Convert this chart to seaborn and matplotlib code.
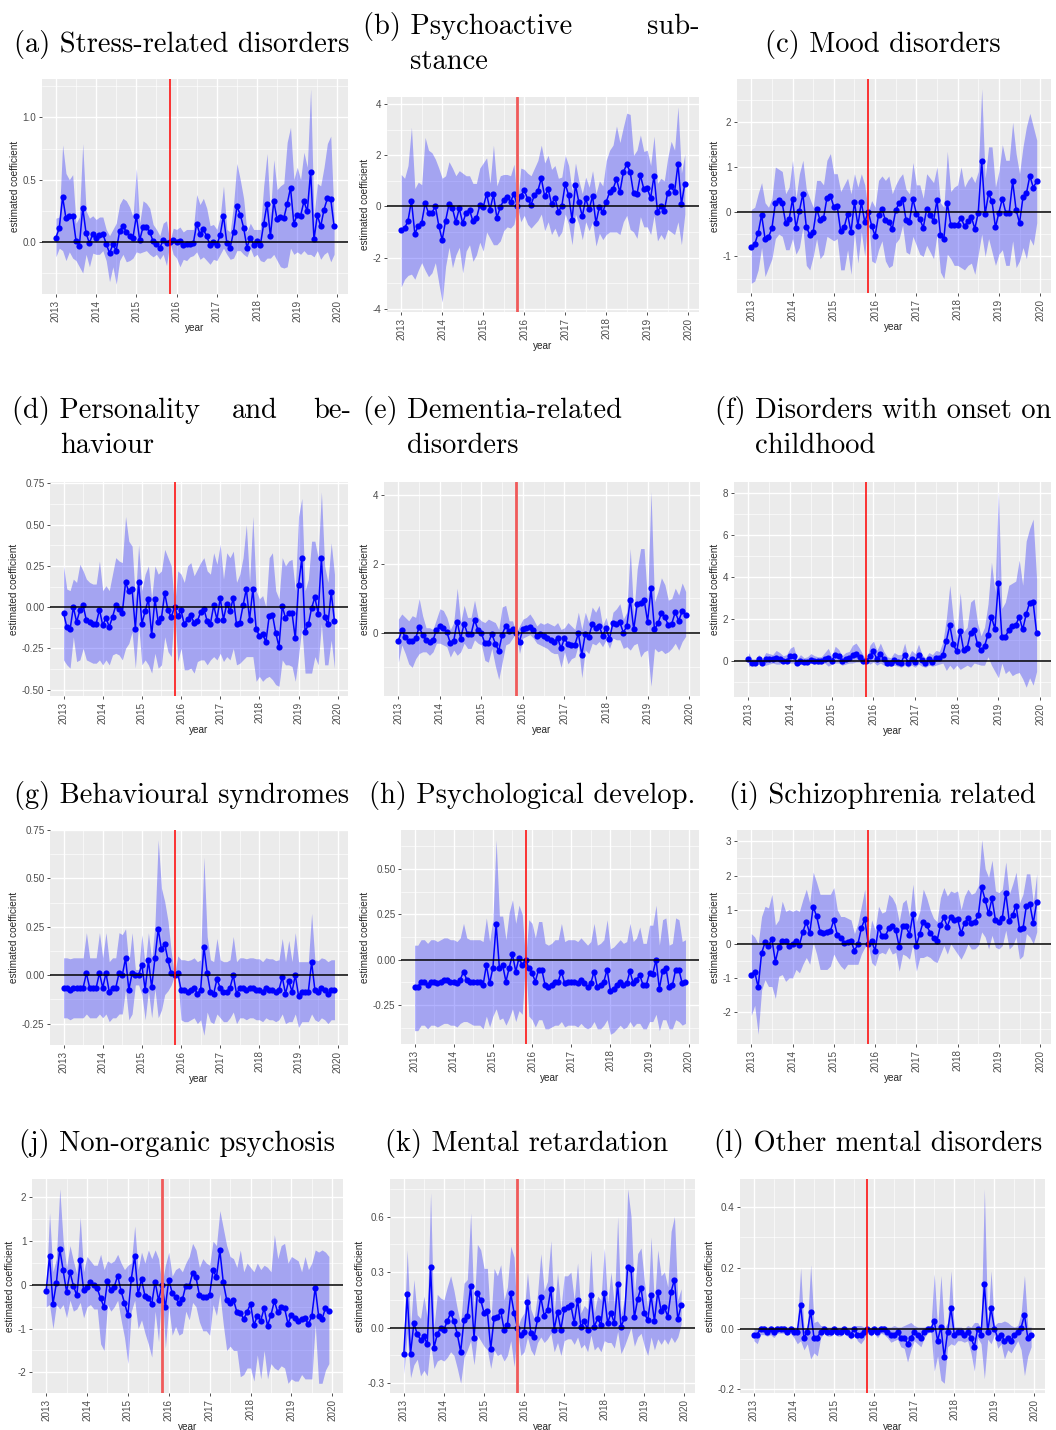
import numpy as np
import pandas as pd
import matplotlib
matplotlib.use("Agg")
import matplotlib.pyplot as plt
import seaborn as sns

# ---------------------------------------------------------------- time axis
months = pd.date_range("2013-01-01", "2019-12-01", freq="MS")
year_pos = np.asarray(months.year + (months.month - 1) / 12.0, dtype=float)
break_month = 2015 + 10 / 12.0          # reference month (Nov 2015)
year_ticks = list(range(2013, 2021))
year_labels = [str(y) for y in year_ticks]

# ---------------------------------------------------------------- (a) stress-related
stress_est = [0.035, 0.11, 0.36, 0.19, 0.21, 0.21, 0.01, -0.03, 0.275, 0.07, -0.01, 0.065,
              0.03, 0.055, 0.065, -0.015, -0.09, -0.02, -0.07, 0.085, 0.13, 0.08, 0.045, 0.035,
              0.21, 0.015, 0.12, 0.12, 0.08, 0.005, -0.015, -0.05, 0.015, -0.01, 0.0, 0.015,
              0.0, 0.01, -0.025, -0.02, -0.015, -0.01, 0.145, 0.06, 0.10, 0.045, -0.025, 0.0,
              -0.025, 0.055, 0.21, -0.01, -0.045, 0.08, 0.285, 0.22, 0.115, -0.045, 0.035, -0.025,
              0.005, -0.025, 0.145, 0.305, 0.045, 0.325, 0.18, 0.2, 0.19, 0.305, 0.435, 0.145,
              0.22, 0.21, 0.325, 0.245, 0.565, 0.02, 0.215, 0.125, 0.26, 0.35, 0.345, 0.125]
stress_hi = [0.19, 0.2, 0.78, 0.55, 0.5, 0.54, 0.15, 0.2, 0.79, 0.25, 0.19, 0.21,
             0.18, 0.2, 0.2, 0.1, 0.05, 0.1, 0.15, 0.3, 0.35, 0.33, 0.28, 0.2,
             0.59, 0.15, 0.33, 0.31, 0.27, 0.14, 0.1, 0.05, 0.15, 0.17, 0.0, 0.11,
             0.1, 0.12, 0.08, 0.1, 0.1, 0.1, 0.38, 0.3, 0.35, 0.27, 0.13, 0.14,
             0.1, 0.2, 0.45, 0.1, 0.08, 0.3, 0.63, 0.5, 0.35, 0.08, 0.15, 0.1,
             0.1, 0.1, 0.45, 0.71, 0.22, 0.66, 0.42, 0.45, 0.47, 0.8, 0.92, 0.5,
             0.6, 0.5, 0.72, 0.6, 1.23, 0.2, 0.47, 0.45, 0.6, 0.79, 0.85, 0.2]
stress_lo = [-0.12, -0.05, -0.07, -0.15, -0.08, -0.13, -0.15, -0.2, -0.25, -0.1, -0.2, -0.09,
             -0.1, -0.1, -0.07, -0.15, -0.32, -0.2, -0.34, -0.15, -0.1, -0.16, -0.15, -0.13,
             -0.08, -0.09, -0.08, -0.07, -0.1, -0.12, -0.1, -0.14, -0.1, -0.19, 0.0, -0.1,
             -0.13, -0.2, -0.14, -0.15, -0.12, -0.11, -0.08, -0.14, -0.12, -0.15, -0.18, -0.14,
             -0.15, -0.1, -0.05, -0.1, -0.14, -0.13, -0.07, -0.07, -0.1, -0.12, -0.05, -0.12,
             -0.1, -0.15, -0.16, -0.13, -0.13, -0.1, -0.15, -0.2, -0.21, -0.2, -0.05, -0.1,
             -0.08, -0.1, -0.07, -0.1, -0.1, -0.12, -0.07, -0.14, -0.1, -0.08, -0.16, -0.1]

# ---------------------------------------------------------------- (b) psychoactive substance
psycho_est = [-0.93, -0.86, -0.56, 0.22, -1.07, -0.76, -0.64, 0.12, -0.26, -0.25, 0.01, -0.75,
              -1.31, -0.56, 0.09, -0.08, -0.61, -0.08, -0.65, -0.25, -0.13, -0.59, -0.47, 0.04,
              -0.03, 0.48, -0.13, 0.47, -0.44, -0.04, 0.25, 0.37, 0.18, 0.50, 0.0, 0.42,
              0.63, 0.30, 0.07, 0.44, 0.61, 1.10, 0.39, 0.68, 0.09, 0.34, -0.2, 0.01,
              0.88, 0.44, -0.52, 0.84, 0.16, -0.39, 0.31, -0.12, 0.41, -0.65, -0.01, -0.22,
              0.18, 0.56, 0.68, 1.07, 0.56, 1.33, 1.65, 1.35, 0.51, 0.47, 1.22, 0.68,
              0.71, 0.33, 1.20, -0.2, 0.0, -0.16, 0.54, 0.78, 0.56, 1.66, 0.09, 0.89]
psycho_hi = [1.25, 1.1, 1.6, 3.1, 0.7, 0.95, 0.85, 2.7, 2.2, 2.1, 1.85, 1.5,
             1.1, 1.2, 1.75, 1.5, 1.2, 1.4, 1.3, 1.2, 1.2, 0.9, 0.9, 1.5,
             1.7, 1.9, 0.9, 2.4, 0.8, 1.2, 1.25, 1.25, 1.2, 1.65, 0.0, 1.5,
             1.45, 1.3, 1.2, 1.5, 1.8, 2.4, 1.7, 2.0, 1.45, 1.6, 1.1, 1.15,
             2.0, 1.6, 0.6, 1.7, 1.0, 0.5, 1.15, 0.75, 1.4, 0.5, 1.0, 0.8,
             1.8, 2.2, 2.4, 3.15, 2.5, 3.1, 3.65, 3.6, 2.0, 2.2, 2.8, 2.15,
             2.2, 1.6, 2.75, 0.9, 1.1, 1.0, 1.9, 2.55, 2.2, 3.9, 1.3, 2.05]
psycho_lo = [-3.15, -2.85, -2.7, -2.65, -2.85, -2.5, -2.2, -2.5, -2.75, -2.6, -2.2, -3.0,
             -3.75, -2.35, -1.6, -2.4, -1.9, -1.6, -2.6, -1.75, -1.5, -2.15, -1.9, -1.4,
             -1.75, -1.0, -1.25, -1.5, -1.5, -1.35, -0.95, -0.8, -0.85, -0.7, 0.0, -0.6,
             -0.35, -0.7, -0.85, -0.7, -0.55, -0.3, -0.95, -0.6, -1.1, -0.85, -1.2, -1.0,
             -0.3, -0.7, -1.5, -0.3, -0.7, -1.3, -0.6, -0.95, -0.6, -1.55, -1.05, -1.3,
             -1.1, -1.0, -1.0, -1.0, -1.1, -0.6, -0.35, -0.9, -1.0, -1.25, -0.4, -0.8,
             -0.8, -1.1, -0.35, -1.35, -1.1, -1.3, -0.9, -1.0, -1.1, -0.6, -1.5, -0.3]

# ---------------------------------------------------------------- (c) mood disorders
mood_est = [-0.78, -0.73, -0.48, -0.07, -0.60, -0.57, -0.37, 0.19, 0.26, 0.19, -0.25, -0.17,
            0.28, -0.36, 0.02, 0.40, -0.34, -0.51, -0.45, 0.07, -0.19, -0.15, 0.31, 0.36,
            0.11, 0.12, -0.44, -0.35, -0.05, -0.46, 0.22, -0.31, 0.21, -0.23, 0.0, -0.31,
            -0.54, -0.08, 0.07, -0.19, -0.22, -0.38, 0.03, 0.20, 0.28, -0.18, -0.22, 0.28,
            -0.04, -0.16, -0.36, 0.06, -0.07, -0.21, 0.26, -0.51, -0.60, 0.20, -0.29, -0.29,
            -0.29, -0.13, -0.33, -0.21, -0.12, -0.38, -0.02, 1.13, -0.05, 0.41, 0.23, -0.35,
            -0.02, 0.29, -0.02, -0.02, 0.68, 0.04, -0.25, 0.32, 0.41, 0.80, 0.54, 0.68]
mood_hi = [0.05, 0.1, 0.4, 0.65, 0.2, 0.1, 0.3, 1.0, 0.95, 0.9, 0.4, 0.55,
           1.15, 0.3, 0.85, 1.15, 0.5, 0.3, 0.1, 0.7, 0.7, 0.6, 1.15, 1.3,
           0.85, 0.85, 0.45, 0.6, 0.75, 0.4, 0.85, 0.55, 0.85, 0.6, 0.0, 0.25,
           0.1, 0.7, 0.8, 0.7, 0.8, 0.4, 0.6, 0.75, 0.85, 0.5, 0.4, 1.1,
           0.6, 0.6, 0.3, 0.85, 0.75, 0.65, 1.0, 0.2, 0.1, 1.35, 0.45, 0.55,
           0.6, 1.0, 0.55, 0.7, 0.8, 0.65, 0.9, 2.75, 0.75, 1.45, 1.45, 0.55,
           0.9, 1.5, 1.15, 1.15, 2.0, 1.3, 0.85, 1.45, 1.9, 2.2, 1.9, 1.6]
mood_lo = [-1.6, -1.55, -1.3, -0.8, -1.45, -1.25, -1.05, -0.6, -0.5, -0.55, -0.85, -0.85,
           -0.6, -0.95, -0.8, -0.35, -1.2, -1.3, -1.0, -0.6, -1.05, -0.95, -0.55, -0.6,
           -0.65, -0.6, -1.3, -1.3, -0.85, -1.4, -0.45, -1.15, -0.45, -1.0, 0.0, -1.1,
           -1.15, -0.85, -0.65, -1.1, -1.25, -1.2, -0.7, -0.6, -0.3, -0.9, -0.95, -0.55,
           -0.75, -0.95, -1.0, -0.75, -0.9, -1.05, -0.5, -1.35, -1.5, -0.95, -1.05, -1.2,
           -1.2, -1.25, -1.3, -1.2, -1.15, -1.4, -0.95, -0.5, -1.0, -0.6, -0.9, -1.2,
           -0.95, -0.85, -1.2, -1.2, -0.65, -1.25, -1.1, -0.8, -1.05, -0.6, -0.75, -0.25]

# ---------------------------------------------------------------- (d) personality and behaviour
person_est = [-0.035, -0.12, -0.135, 0.0, -0.09, -0.02, 0.01, -0.08, -0.09, -0.10, -0.10, -0.015,
              -0.11, -0.065, -0.12, -0.06, 0.01, -0.01, -0.035, 0.15, 0.095, 0.11, -0.13, 0.15,
              -0.10, -0.025, 0.05, -0.17, 0.05, -0.09, -0.065, 0.085, -0.02, -0.06, 0.0, -0.055,
              -0.02, -0.105, -0.07, -0.05, -0.095, -0.085, -0.03, -0.01, -0.085, -0.10, 0.01, -0.075,
              0.055, -0.075, 0.02, -0.025, 0.055, -0.105, -0.095, 0.01, 0.11, -0.075, 0.11, -0.13,
              -0.175, -0.165, -0.21, -0.055, -0.045, -0.155, -0.24, 0.005, -0.065, -0.035, -0.035, -0.19,
              0.135, 0.295, -0.15, -0.105, -0.005, 0.06, -0.04, 0.295, -0.06, -0.105, 0.09, -0.085]
person_hi = [0.25, 0.11, 0.1, 0.17, 0.15, 0.26, 0.22, 0.17, 0.15, 0.14, 0.14, 0.28,
             0.1, 0.13, 0.1, 0.2, 0.3, 0.28, 0.27, 0.55, 0.4, 0.37, 0.05, 0.38,
             0.1, 0.2, 0.25, 0.05, 0.25, 0.2, 0.22, 0.35, 0.3, 0.25, 0.0, 0.22,
             0.2, 0.15, 0.25, 0.27, 0.19, 0.23, 0.27, 0.3, 0.22, 0.2, 0.33, 0.26,
             0.38, 0.17, 0.33, 0.3, 0.34, 0.15, 0.2, 0.3, 0.5, 0.15, 0.55, 0.1,
             0.05, 0.07, 0.0, 0.3, 0.33, 0.1, 0.05, 0.3, 0.25, 0.28, 0.29, 0.1,
             0.55, 0.66, 0.1, 0.17, 0.4, 0.4, 0.3, 0.7, 0.25, 0.15, 0.39, 0.2]
person_lo = [-0.32, -0.35, -0.37, -0.18, -0.33, -0.32, -0.25, -0.32, -0.33, -0.34, -0.34, -0.32,
             -0.35, -0.32, -0.35, -0.29, -0.28, -0.29, -0.32, -0.25, -0.22, -0.15, -0.37, -0.1,
             -0.35, -0.32, -0.35, -0.4, -0.28, -0.37, -0.35, -0.18, -0.27, -0.3, 0.0, -0.33,
             -0.25, -0.38, -0.38, -0.37, -0.4, -0.33, -0.32, -0.32, -0.35, -0.32, -0.3, -0.32,
             -0.28, -0.33, -0.3, -0.32, -0.25, -0.35, -0.34, -0.32, -0.3, -0.3, -0.3, -0.45,
             -0.42, -0.45, -0.43, -0.42, -0.44, -0.47, -0.48, -0.32, -0.35, -0.35, -0.36, -0.45,
             -0.3, -0.12, -0.4, -0.4, -0.4, -0.3, -0.35, -0.1, -0.35, -0.35, -0.2, -0.37]

# ---------------------------------------------------------------- (e) dementia-related
dementia_est = [-0.23, 0.08, -0.13, -0.23, -0.23, -0.16, 0.17, -0.05, -0.21, -0.26, -0.22, 0.09,
                0.19, 0.15, 0.02, -0.29, -0.23, 0.33, -0.17, 0.27, -0.04, -0.04, 0.38, 0.09,
                -0.01, -0.30, -0.30, -0.02, -0.31, -0.52, -0.05, 0.21, 0.06, 0.10, 0.0, -0.25,
                0.12, 0.15, 0.16, 0.08, -0.08, -0.02, -0.10, -0.16, -0.22, -0.27, -0.14, -0.45,
                -0.15, -0.33, -0.35, -0.35, -0.01, -0.63, -0.02, -0.12, 0.25, 0.14, 0.21, -0.08,
                0.13, -0.17, 0.29, 0.27, 0.31, 0.01, 0.19, 0.97, 0.10, 0.84, 0.87, 0.97,
                0.33, 1.29, 0.10, 0.28, 0.57, 0.45, 0.23, 0.27, 0.60, 0.35, 0.63, 0.53]
dementia_hi = [0.4, 0.55, 0.45, 0.35, 0.5, 0.45, 1.0, 0.5, 0.15, 0.15, 0.1, 0.4,
               0.7, 0.65, 0.45, 0.1, 0.3, 1.3, 0.3, 0.8, 0.45, 0.45, 0.95, 0.45,
               0.35, 0.3, 0.4, 0.35, 0.3, 0.1, 0.75, 0.8, 0.35, 0.35, 0.0, 0.2,
               0.4, 0.45, 0.55, 0.4, 0.2, 0.3, 0.25, 0.3, 0.25, 0.2, 0.3, 0.1,
               0.15, 0.3, 0.2, 0.1, 0.6, 0.1, 0.6, 0.3, 0.75, 0.6, 0.8, 0.2,
               0.45, 0.05, 0.6, 0.7, 0.85, 0.4, 0.6, 2.45, 0.5, 1.85, 2.45, 2.45,
               0.9, 4.1, 0.9, 1.2, 1.6, 1.4, 0.95, 1.0, 1.3, 1.1, 1.45, 1.2]
dementia_lo = [-0.85, -0.35, -0.6, -0.9, -1.0, -0.75, -0.6, -0.55, -0.55, -0.65, -0.55, -0.3,
               -0.3, -0.35, -0.4, -0.7, -0.5, -0.65, -0.55, -0.3, -0.45, -0.45, -0.2, -0.3,
               -0.35, -0.8, -0.85, -0.45, -0.95, -1.35, -0.85, -0.35, -0.3, -0.15, 0.0, -0.6,
               -0.15, -0.1, -0.05, -0.15, -0.3, -0.35, -0.4, -0.45, -0.55, -0.6, -0.6, -1.0,
               -0.55, -0.9, -0.75, -0.7, -0.35, -1.3, -0.5, -0.6, -0.3, -0.35, -0.25, -0.4,
               -0.2, -0.45, -0.15, -0.2, -0.2, -0.45, -0.4, -0.5, -0.35, -0.3, -0.7, -0.55,
               -0.5, -1.55, -0.45, -0.55, -0.5, -0.6, -0.55, -0.45, -0.3, -0.5, -0.25, -0.1]

# ---------------------------------------------------------------- (f) onset on childhood
child_est = [0.08, -0.08, -0.08, 0.08, -0.08, 0.1, 0.1, 0.1, 0.15, 0.08, 0.0, 0.0,
             0.22, 0.25, -0.08, 0.0, -0.05, -0.03, 0.05, 0.02, 0.0, -0.02, 0.1, 0.15,
             0.0, 0.3, 0.22, 0.0, 0.1, 0.12, 0.28, 0.35, 0.2, -0.02, 0.0, 0.25,
             0.45, 0.1, 0.35, 0.08, -0.08, -0.1, 0.05, -0.03, -0.08, 0.3, -0.08, 0.1,
             -0.05, 0.3, 0.05, -0.1, 0.08, -0.03, 0.12, 0.12, 0.3, 0.95, 1.7, 0.8,
             0.45, 1.42, 0.5, 0.62, 1.35, 1.45, 0.8, 0.5, 0.7, 1.25, 2.1, 1.52,
             3.7, 1.15, 1.15, 1.48, 1.68, 1.7, 2.1, 1.5, 2.22, 2.78, 2.8, 1.35]
child_hi = [0.4, 0.1, 0.1, 0.3, 0.1, 0.4, 0.35, 0.3, 0.5, 0.4, 0.25, 0.3,
            0.6, 0.7, 0.1, 0.3, 0.15, 0.2, 0.35, 0.25, 0.2, 0.2, 0.4, 0.6,
            0.2, 0.7, 0.55, 0.25, 0.4, 0.45, 0.75, 0.85, 0.6, 0.3, 0.0, 0.75,
            0.95, 0.5, 0.85, 0.45, 0.2, 0.15, 0.4, 0.3, 0.3, 0.85, 0.15, 0.5,
            0.35, 0.8, 0.3, 0.15, 0.4, 0.3, 0.5, 0.45, 0.9, 2.0, 3.6, 2.0,
            1.1, 3.25, 1.4, 1.6, 2.8, 2.95, 1.8, 1.2, 1.6, 2.7, 4.7, 3.3,
            8.05, 2.5, 2.8, 3.6, 3.7, 3.8, 4.8, 3.6, 5.7, 6.3, 6.75, 3.9]
child_lo = [-0.25, -0.2, -0.2, -0.15, -0.2, -0.2, -0.15, -0.1, -0.15, -0.15, -0.05, -0.1,
            -0.1, -0.1, -0.2, -0.15, -0.15, -0.15, -0.1, -0.15, -0.15, -0.15, -0.1, -0.25,
            -0.15, -0.1, -0.1, -0.2, -0.15, -0.1, -0.1, -0.05, -0.05, -0.15, 0.0, -0.15,
            -0.05, -0.2, -0.1, -0.2, -0.25, -0.25, -0.2, -0.25, -0.3, -0.2, -0.3, -0.2,
            -0.3, -0.15, -0.25, -0.3, -0.2, -0.25, -0.2, -0.15, -0.1, -0.45, -0.2, -0.4,
            -0.2, -0.4, -0.3, -0.2, -0.3, -0.1, -0.15, -0.2, -0.2, 0.2, -0.2, -0.5,
            -0.8, -0.1, -0.6, -0.45, -0.7, -0.6, -0.55, -0.85, -1.25, -0.8, -1.15, -0.5]

# ---------------------------------------------------------------- (g) behavioural syndromes
behav_est = [-0.065, -0.065, -0.075, -0.065, -0.065, -0.065, -0.065, 0.01, -0.065, -0.065, -0.065, 0.012,
             -0.065, 0.01, -0.085, -0.065, -0.065, 0.01, 0.0, 0.088, -0.075, 0.01, 0.0, 0.0,
             0.055, -0.075, 0.077, -0.063, 0.088, 0.238, 0.133, 0.163, 0.077, 0.01, 0.0, 0.01,
             -0.075, -0.075, -0.087, -0.075, -0.065, -0.095, -0.075, 0.148, 0.012, -0.085, -0.095, -0.02,
             -0.065, -0.085, -0.085, -0.065, 0.0, -0.095, -0.065, -0.065, -0.075, -0.065, -0.065, -0.075,
             -0.075, -0.085, -0.065, -0.075, -0.075, -0.085, -0.075, -0.01, -0.095, -0.028, -0.085, 0.0,
             -0.105, -0.085, -0.085, -0.085, 0.068, -0.075, -0.087, -0.065, -0.075, -0.095, -0.075, -0.075]
behav_hi = [0.09, 0.09, 0.085, 0.09, 0.09, 0.09, 0.09, 0.22, 0.09, 0.09, 0.09, 0.22,
            0.09, 0.22, 0.07, 0.09, 0.09, 0.22, 0.21, 0.24, 0.06, 0.22, 0.03, 0.03,
            0.21, 0.05, 0.22, 0.08, 0.26, 0.7, 0.45, 0.38, 0.28, 0.12, 0.0, 0.1,
            0.08, 0.08, 0.075, 0.08, 0.09, 0.07, 0.08, 0.61, 0.2, 0.08, 0.07, 0.19,
            0.08, 0.07, 0.07, 0.08, 0.2, 0.07, 0.09, 0.09, 0.085, 0.09, 0.09, 0.085,
            0.085, 0.07, 0.09, 0.085, 0.085, 0.075, 0.08, 0.19, 0.07, 0.18, 0.07, 0.22,
            0.07, 0.07, 0.07, 0.07, 0.32, 0.08, 0.075, 0.09, 0.085, 0.07, 0.08, 0.08]
behav_lo = [-0.22, -0.22, -0.23, -0.22, -0.22, -0.22, -0.22, -0.2, -0.22, -0.22, -0.22, -0.2,
            -0.22, -0.2, -0.24, -0.22, -0.22, -0.2, -0.2, -0.07, -0.23, -0.2, -0.05, -0.05,
            -0.1, -0.23, -0.08, -0.22, -0.07, -0.22, -0.18, -0.1, -0.08, -0.05, 0.0, -0.02,
            -0.23, -0.24, -0.24, -0.23, -0.22, -0.25, -0.23, -0.31, -0.19, -0.24, -0.25, -0.2,
            -0.22, -0.24, -0.24, -0.22, -0.19, -0.25, -0.22, -0.22, -0.23, -0.22, -0.22, -0.23,
            -0.23, -0.24, -0.22, -0.23, -0.23, -0.24, -0.23, -0.2, -0.25, -0.24, -0.24, -0.2,
            -0.27, -0.24, -0.24, -0.24, -0.2, -0.23, -0.24, -0.22, -0.23, -0.25, -0.23, -0.23]

# ---------------------------------------------------------------- (h) psychological development
develop_est = [-0.15, -0.15, -0.12, -0.12, -0.14, -0.12, -0.12, -0.13, -0.12, -0.11, -0.11, -0.12,
               -0.12, -0.13, -0.11, -0.065, -0.11, -0.12, -0.12, -0.12, -0.12, -0.14, -0.03, -0.13,
               -0.045, 0.195, -0.045, -0.03, -0.12, -0.045, 0.03, -0.065, 0.01, -0.03, 0.0, -0.045,
               -0.072, -0.12, -0.055, -0.055, -0.14, -0.15, -0.14, -0.12, -0.12, -0.065, -0.13, -0.12,
               -0.12, -0.12, -0.13, -0.11, -0.13, -0.15, -0.13, -0.065, -0.15, -0.14, -0.12, -0.055,
               -0.17, -0.16, -0.14, -0.12, -0.14, -0.13, -0.063, -0.13, -0.11, -0.083, -0.14, -0.14,
               -0.072, -0.076, 0.0, -0.16, -0.063, -0.043, -0.152, -0.14, -0.055, -0.055, -0.13, -0.12]
develop_hi = [0.08, 0.08, 0.11, 0.11, 0.09, 0.11, 0.11, 0.1, 0.11, 0.12, 0.12, 0.11,
              0.11, 0.1, 0.12, 0.2, 0.12, 0.11, 0.11, 0.11, 0.11, 0.1, 0.23, 0.1,
              0.22, 0.66, 0.24, 0.24, 0.11, 0.26, 0.33, 0.2, 0.3, 0.25, 0.0, 0.22,
              0.2, 0.12, 0.21, 0.21, 0.09, 0.08, 0.09, 0.11, 0.11, 0.2, 0.1, 0.11,
              0.11, 0.11, 0.1, 0.12, 0.1, 0.08, 0.1, 0.2, 0.08, 0.09, 0.11, 0.22,
              0.06, 0.07, 0.09, 0.11, 0.09, 0.1, 0.2, 0.1, 0.12, 0.18, 0.09, 0.09,
              0.19, 0.19, 0.3, 0.08, 0.22, 0.23, 0.08, 0.09, 0.23, 0.22, 0.1, 0.11]
develop_lo = [-0.39, -0.39, -0.36, -0.36, -0.38, -0.36, -0.36, -0.37, -0.36, -0.35, -0.35, -0.36,
              -0.36, -0.37, -0.35, -0.34, -0.34, -0.35, -0.36, -0.36, -0.36, -0.38, -0.31, -0.37,
              -0.31, -0.27, -0.33, -0.32, -0.36, -0.32, -0.27, -0.34, -0.28, -0.3, 0.0, -0.31,
              -0.33, -0.37, -0.33, -0.33, -0.38, -0.38, -0.37, -0.36, -0.36, -0.34, -0.37, -0.36,
              -0.36, -0.36, -0.37, -0.35, -0.37, -0.38, -0.37, -0.34, -0.38, -0.38, -0.36, -0.33,
              -0.41, -0.4, -0.38, -0.36, -0.38, -0.37, -0.34, -0.37, -0.35, -0.35, -0.38, -0.38,
              -0.34, -0.34, -0.3, -0.39, -0.33, -0.33, -0.38, -0.38, -0.33, -0.34, -0.36, -0.35]

# ---------------------------------------------------------------- (i) schizophrenia related
schizo_est = [-0.9, -0.82, -1.27, -0.27, 0.04, -0.05, 0.14, -0.52, -0.1, 0.08, 0.08, -0.05,
              0.0, 0.08, -0.03, 0.35, 0.64, 0.31, 1.09, 0.81, 0.36, 0.33, 0.35, 0.38,
              0.69, 0.27, 0.18, 0.02, 0.06, 0.09, -0.2, -0.01, 0.45, 0.73, 0.0, 0.07,
              -0.2, 0.48, 0.23, 0.23, 0.46, 0.51, 0.41, -0.08, 0.52, 0.51, 0.27, 0.87,
              -0.05, 0.30, 0.65, 0.54, 0.33, 0.16, 0.08, 0.54, 0.78, 0.50, 0.80, 0.70,
              0.72, 0.31, 0.60, 0.76, 0.60, 0.65, 0.83, 1.66, 1.29, 0.89, 1.33, 0.69,
              0.63, 0.77, 1.49, 0.67, 0.84, 1.12, 0.43, 0.45, 1.12, 1.16, 0.61, 1.23]
schizo_hi = [0.3, 0.2, 0.0, 0.8, 1.1, 1.05, 1.45, 0.55, 0.7, 1.25, 0.95, 1.0,
             0.95, 1.0, 0.95, 1.3, 1.6, 1.2, 2.1, 1.8, 1.45, 1.45, 1.45, 1.45,
             1.65, 1.0, 0.8, 0.8, 0.75, 0.7, 0.3, 0.6, 1.1, 1.6, 0.0, 0.7,
             0.4, 1.1, 0.9, 0.95, 1.45, 1.35, 1.15, 0.65, 1.2, 1.3, 0.8, 1.75,
             0.65, 0.95, 1.6, 1.35, 1.0, 0.75, 0.65, 1.35, 1.65, 1.4, 1.55, 1.5,
             1.55, 1.0, 1.4, 1.6, 1.45, 1.5, 1.7, 3.05, 2.2, 1.95, 2.45, 1.55,
             1.5, 1.6, 2.4, 1.45, 1.75, 2.1, 1.2, 1.45, 2.05, 2.05, 1.2, 2.05]
schizo_lo = [-2.1, -1.8, -2.65, -1.35, -1.05, -1.25, -1.25, -1.6, -0.95, -0.9, -1.1, -1.0,
             -1.0, -0.75, -0.85, -0.6, -0.4, -0.6, 0.05, -0.3, -0.75, -0.75, -0.75, -0.65,
             -0.3, -0.5, -0.65, -0.75, -0.6, -0.6, -0.6, -0.6, -0.3, -0.1, 0.0, -0.55,
             -0.65, -0.3, -0.25, -0.3, -0.1, -0.3, -0.25, -0.8, -0.3, -0.35, -0.45, 0.0,
             -0.8, -0.4, -0.4, -0.35, -0.4, -0.5, -0.55, -0.3, -0.05, -0.3, 0.0, -0.15,
             -0.3, -0.45, -0.25, 0.0, -0.15, -0.15, -0.05, 0.35, 0.2, -0.15, 0.25, -0.1,
             -0.15, -0.05, 0.4, -0.15, -0.05, 0.2, -0.45, -0.35, 0.3, 0.2, 0.0, 0.35]

# ---------------------------------------------------------------- (j) non-organic psychosis
psychosis_est = [-0.14, 0.66, -0.44, 0.04, 0.82, 0.33, -0.16, 0.29, -0.02, -0.24, 0.56, -0.12,
                 -0.04, 0.07, 0.0, -0.08, -0.31, -0.51, 0.08, -0.12, -0.04, 0.21, -0.14, -0.41,
                 -0.69, 0.14, 0.66, -0.21, 0.13, -0.25, -0.30, -0.43, 0.07, -0.35, 0.0, -0.51,
                 0.12, -0.18, -0.28, -0.42, -0.33, -0.02, -0.03, 0.27, 0.17, -0.23, -0.27, -0.27,
                 -0.22, 0.34, 0.18, 0.79, 0.06, -0.34, -0.41, -0.34, -0.62, -0.64, -0.78, -0.62,
                 -0.43, -0.92, -0.71, -0.82, -0.53, -0.93, -0.69, -0.37, -0.63, -0.50, -0.53, -0.89,
                 -0.68, -0.76, -0.82, -0.79, -0.76, -0.90, -0.71, -0.06, -0.71, -0.78, -0.53, -0.60]
psychosis_hi = [-0.1, 1.65, 0.3, 0.6, 2.2, 1.0, 0.4, 0.9, 0.55, 0.25, 1.55, 0.3,
                0.65, 0.55, 0.45, 0.45, 0.7, 0.35, 0.55, 0.5, 0.55, 0.7, 0.5, 0.35,
                0.45, 0.5, 1.35, 0.35, 0.75, 0.5, 0.8, 0.6, 0.8, 0.6, 0.0, 0.45,
                0.75, 0.2, 0.35, 0.4, 0.3, 0.5, 0.65, 0.95, 0.8, 0.4, 0.6, 0.5,
                0.45, 1.0, 0.9, 1.7, 1.3, 0.9, 0.65, 0.6, 0.4, 0.8, 0.3, 0.5,
                0.4, 0.3, 0.5, 0.35, 0.45, 0.4, 0.3, 1.15, 0.6, 0.9, 0.95, 0.5,
                0.65, 0.6, 0.55, 0.3, 0.65, 0.35, 0.5, 0.8, 0.75, 0.8, 0.75, 0.65]
psychosis_lo = [-0.5, -0.45, -1.0, -0.45, -0.55, -0.45, -0.75, -0.35, -0.6, -0.55, -0.4, -0.75,
                -0.5, -0.45, -0.55, -0.55, -1.35, -1.5, -0.45, -0.6, -0.5, -0.35, -0.8, -1.2,
                -1.8, -0.6, -0.35, -1.0, -0.8, -1.1, -1.35, -1.65, -0.6, -1.3, 0.0, -1.45,
                -0.5, -1.15, -0.95, -1.15, -1.1, -0.6, -0.8, -0.4, -0.5, -0.85, -1.05, -1.05,
                -1.15, -0.45, -0.7, -0.2, -0.9, -1.5, -1.4, -1.5, -1.5, -2.1, -2.05, -1.9,
                -1.9, -2.2, -1.6, -2.15, -1.5, -2.15, -1.8, -1.9, -1.95, -1.85, -1.9, -2.25,
                -2.15, -2.2, -2.2, -2.05, -2.15, -2.15, -2.15, -0.9, -2.25, -2.25, -1.95, -1.8]

# ---------------------------------------------------------------- (k) mental retardation
retard_est = [-0.14, 0.18, -0.14, 0.025, -0.035, -0.065, -0.045, -0.09, 0.325, -0.11, -0.035, 0.0,
              -0.01, 0.035, 0.08, 0.035, -0.035, -0.13, 0.04, 0.065, 0.225, -0.055, 0.185, 0.15,
              0.08, 0.09, -0.115, 0.05, 0.055, 0.09, -0.01, 0.015, 0.185, 0.08, 0.0, -0.04,
              -0.025, 0.14, -0.03, -0.05, 0.045, 0.165, 0.065, 0.095, 0.21, -0.01, 0.085, -0.01,
              0.10, 0.11, 0.12, 0.025, 0.15, 0.005, 0.035, -0.01, 0.175, 0.005, 0.05, 0.015,
              0.185, 0.025, 0.08, 0.025, 0.235, 0.005, 0.05, 0.33, 0.315, 0.055, 0.155, 0.215,
              0.08, 0.04, 0.175, 0.035, 0.195, 0.09, 0.11, 0.06, 0.195, 0.26, 0.045, 0.12]
retard_hi = [-0.05, 0.42, 0.0, 0.26, 0.07, 0.05, 0.17, 0.05, 0.73, 0.0, 0.18, 0.16,
             0.15, 0.22, 0.28, 0.2, 0.1, 0.02, 0.24, 0.26, 0.62, 0.1, 0.45, 0.42,
             0.32, 0.32, 0.02, 0.32, 0.28, 0.34, 0.15, 0.22, 0.44, 0.38, 0.0, 0.05,
             0.08, 0.3, 0.1, 0.05, 0.18, 0.4, 0.2, 0.25, 0.47, 0.08, 0.3, 0.1,
             0.28, 0.28, 0.3, 0.15, 0.35, 0.08, 0.12, 0.1, 0.42, 0.08, 0.17, 0.15,
             0.43, 0.13, 0.3, 0.12, 0.6, 0.07, 0.15, 0.75, 0.6, 0.17, 0.4, 0.43,
             0.25, 0.1, 0.49, 0.12, 0.42, 0.28, 0.3, 0.22, 0.52, 0.6, 0.15, 0.21]
retard_lo = [-0.25, -0.03, -0.27, -0.2, -0.17, -0.26, -0.23, -0.26, -0.08, -0.22, -0.18, -0.17,
             -0.18, -0.16, -0.13, -0.15, -0.22, -0.3, -0.16, -0.12, -0.07, -0.2, -0.04, -0.07,
             -0.1, -0.12, -0.22, -0.12, -0.15, -0.14, -0.18, -0.15, -0.07, -0.21, 0.0, -0.15,
             -0.13, -0.05, -0.12, -0.15, -0.08, -0.05, -0.08, -0.06, -0.03, -0.13, -0.08, -0.15,
             -0.07, -0.06, -0.06, -0.09, -0.05, -0.11, -0.09, -0.13, -0.04, -0.12, -0.1, -0.13,
             -0.07, -0.08, -0.08, -0.11, -0.02, -0.14, -0.1, -0.05, 0.0, -0.1, -0.05, -0.03,
             -0.1, -0.15, -0.05, -0.12, -0.06, -0.09, -0.06, -0.09, -0.05, -0.08, -0.05, 0.02]

# ---------------------------------------------------------------- (l) other mental disorders
other_est = [-0.02, -0.02, 0.0, 0.0, -0.01, 0.0, -0.01, 0.0, 0.0, 0.0, -0.01, 0.0,
             -0.01, -0.01, 0.077, -0.03, -0.01, 0.056, -0.03, -0.03, -0.01, 0.0, -0.01, -0.01,
             0.0, -0.01, -0.01, 0.0, -0.01, -0.02, 0.0, -0.02, -0.02, -0.01, 0.0, -0.01,
             0.0, -0.01, 0.0, 0.0, -0.01, -0.02, -0.02, -0.01, -0.03, -0.03, -0.05, -0.03,
             -0.01, -0.02, -0.03, -0.01, 0.0, 0.0, 0.024, -0.04, 0.005, -0.095, -0.01, 0.066,
             -0.02, -0.01, -0.01, -0.02, -0.01, -0.03, -0.06, 0.0, -0.02, 0.145, -0.01, 0.066,
             0.0, -0.03, -0.02, -0.04, -0.03, -0.04, -0.02, -0.01, 0.003, 0.044, -0.03, -0.02]
other_hi = [0.0, 0.0, 0.01, 0.01, 0.005, 0.01, 0.005, 0.01, 0.01, 0.01, 0.005, 0.01,
            0.005, 0.005, 0.2, 0.0, 0.005, 0.21, 0.02, 0.025, 0.01, 0.01, 0.005, 0.005,
            0.01, 0.005, 0.005, 0.01, 0.005, 0.005, 0.01, 0.01, 0.01, 0.005, 0.0, 0.005,
            0.01, 0.005, 0.01, 0.01, 0.005, 0.005, 0.01, 0.005, 0.005, 0.01, 0.015, 0.02,
            0.01, 0.005, 0.005, 0.005, 0.01, 0.01, 0.18, 0.0, 0.175, 0.0, 0.02, 0.19,
            0.005, 0.005, 0.005, 0.0, 0.01, 0.005, 0.02, 0.02, 0.0, 0.46, 0.01, 0.19,
            0.01, 0.02, 0.02, 0.025, 0.02, 0.01, 0.005, 0.01, 0.05, 0.175, 0.005, 0.005]
other_lo = [-0.04, -0.05, -0.02, -0.02, -0.025, -0.02, -0.03, -0.015, -0.015, -0.015, -0.02, -0.015,
            -0.03, -0.05, -0.04, -0.07, -0.05, -0.1, -0.08, -0.09, -0.03, -0.015, -0.025, -0.025,
            -0.015, -0.025, -0.025, -0.015, -0.025, -0.035, -0.015, -0.04, -0.05, -0.035, 0.0, -0.025,
            -0.015, -0.03, -0.015, -0.02, -0.03, -0.045, -0.04, -0.035, -0.06, -0.065, -0.11, -0.07,
            -0.04, -0.05, -0.06, -0.03, -0.015, -0.01, -0.14, -0.09, -0.17, -0.18, -0.06, -0.05,
            -0.055, -0.04, -0.04, -0.045, -0.04, -0.08, -0.14, -0.03, -0.05, -0.165, -0.035, -0.05,
            -0.02, -0.065, -0.05, -0.1, -0.07, -0.08, -0.06, -0.04, -0.07, -0.155, -0.09, -0.06]

# ---------------------------------------------------------------- y-axis breaks
ticks_a, labels_a = [0.0, 0.5, 1.0], ["0.0", "0.5", "1.0"]
ticks_b, labels_b = [-4, -2, 0, 2, 4], ["-4", "-2", "0", "2", "4"]
ticks_c, labels_c = [-1, 0, 1, 2], ["-1", "0", "1", "2"]
ticks_d, labels_d = [-0.5, -0.25, 0, 0.25, 0.5, 0.75], ["-0.50", "-0.25", "0.00", "0.25", "0.50", "0.75"]
ticks_e, labels_e = [0, 2, 4], ["0", "2", "4"]
ticks_f, labels_f = [0, 2, 4, 6, 8], ["0", "2", "4", "6", "8"]
ticks_g, labels_g = [-0.25, 0, 0.25, 0.5, 0.75], ["-0.25", "0.00", "0.25", "0.50", "0.75"]
ticks_h, labels_h = [-0.25, 0, 0.25, 0.5], ["-0.25", "0.00", "0.25", "0.50"]
ticks_i, labels_i = [-2, -1, 0, 1, 2, 3], ["-2", "-1", "0", "1", "2", "3"]
ticks_j, labels_j = [-2, -1, 0, 1, 2], ["-2", "-1", "0", "1", "2"]
ticks_k, labels_k = [-0.3, 0, 0.3, 0.6], ["-0.3", "0.0", "0.3", "0.6"]
ticks_l, labels_l = [-0.2, 0, 0.2, 0.4], ["-0.2", "0.0", "0.2", "0.4"]

# ---------------------------------------------------------------- figure
W, H = 1056, 1430
sns.set_style("darkgrid", {"axes.facecolor": "#EBEBEB", "grid.color": "white",
                           "axes.edgecolor": "none"})
plt.rcParams["font.family"] = ["Liberation Sans", "DejaVu Sans"]
fig = plt.figure(figsize=(W / 100, H / 100), dpi=100)
fig.patch.set_facecolor("white")


def px_axes(x0, y0, x1, y1):
    return fig.add_axes([x0 / W, 1 - y1 / H, (x1 - x0) / W, (y1 - y0) / H])


def draw_panel(ax, est, lo, hi, yticks, ylabels, soft_red=False):
    frame = pd.DataFrame({"year": year_pos, "coef": est, "lower": lo, "upper": hi})
    ax.set_facecolor("#EBEBEB")
    ax.fill_between(frame["year"], frame["lower"], frame["upper"],
                    color="blue", alpha=0.3, linewidth=0, zorder=1)
    sns.lineplot(data=frame, x="year", y="coef", ax=ax, color="blue",
                 linewidth=1.1, zorder=2)
    sns.scatterplot(data=frame, x="year", y="coef", ax=ax, color="blue",
                    s=20, linewidth=0, zorder=3)
    ax.axhline(0, color="black", linewidth=1.1, zorder=4)
    if soft_red:
        ax.axvline(break_month, color="#F05A5A", linewidth=2.0, zorder=5)
    else:
        ax.axvline(break_month, color="red", linewidth=1.1, zorder=5)

    lo_lim = min(frame["lower"].min(), 0.0)
    hi_lim = max(frame["upper"].max(), 0.0)
    pad = 0.05 * (hi_lim - lo_lim)
    ymin, ymax = lo_lim - pad, hi_lim + pad
    xpad = 0.05 * (year_pos.max() - year_pos.min())

    ax.set_xticks(year_ticks)
    ax.set_xticklabels(year_labels, rotation=90)
    ax.set_yticks(yticks)
    ax.set_yticklabels(ylabels)
    step = yticks[1] - yticks[0]
    minors = [v for v in np.arange(yticks[0] - step / 2, yticks[-1] + step, step)
              if ymin < v < ymax]
    ax.set_yticks(minors, minor=True)
    ax.set_xticks([y + 0.5 for y in range(2012, 2021)], minor=True)
    ax.set_xlim(year_pos.min() - xpad, year_pos.max() + xpad)
    ax.set_ylim(ymin, ymax)
    ax.grid(which="major", color="white", linewidth=1.0)
    ax.grid(which="minor", color="white", linewidth=0.45)
    ax.set_axisbelow(True)
    ax.tick_params(which="major", length=2.5, width=0.6, color="#333333",
                   bottom=True, left=True, labelsize=7.1, labelcolor="#4D4D4D", pad=1.5)
    ax.tick_params(which="minor", length=0)
    for s in ax.spines.values():
        s.set_visible(False)
    ax.set_xlabel("year", fontsize=7.2, labelpad=1)
    ax.set_ylabel("estimated coefficient", fontsize=7.2, labelpad=2)


panels = [
    ((42, 79, 348, 294), stress_est, stress_lo, stress_hi, ticks_a, labels_a, False),
    ((387, 97, 699, 312), psycho_est, psycho_lo, psycho_hi, ticks_b, labels_b, True),
    ((737, 79, 1051, 293), mood_est, mood_lo, mood_hi, ticks_c, labels_c, False),
    ((50, 482, 348, 696), person_est, person_lo, person_hi, ticks_d, labels_d, False),
    ((384, 482, 700, 696), dementia_est, dementia_lo, dementia_hi, ticks_e, labels_e, True),
    ((734, 482, 1051, 697), child_est, child_lo, child_hi, ticks_f, labels_f, False),
    ((50, 830, 348, 1045), behav_est, behav_lo, behav_hi, ticks_g, labels_g, False),
    ((401, 830, 699, 1044), develop_est, develop_lo, develop_hi, ticks_h, labels_h, False),
    ((737, 830, 1051, 1044), schizo_est, schizo_lo, schizo_hi, ticks_i, labels_i, False),
    ((32, 1179, 343, 1393), psychosis_est, psychosis_lo, psychosis_hi, ticks_j, labels_j, True),
    ((390, 1179, 695, 1393), retard_est, retard_lo, retard_hi, ticks_k, labels_k, True),
    ((740, 1179, 1045, 1393), other_est, other_lo, other_hi, ticks_l, labels_l, False),
]
for rect, est, lo, hi, yt, yl, soft in panels:
    draw_panel(px_axes(*rect), est, lo, hi, yt, yl, soft)

# ---------------------------------------------------------------- sub-captions
CAP = dict(fontfamily="cmr10", fontsize=20.5, color="black", va="baseline")


def cap(x, y, text, ha="left"):
    fig.text(x / W, 1 - y / H, text, ha=ha, **CAP)


cap(181.5, 52, "(a) Stress-related disorders", ha="center")
cap(363, 34, "(b) Psychoactive")
cap(700, 34, "sub-", ha="right")
cap(410, 69, "stance")
cap(883, 52, "(c) Mood disorders", ha="center")

cap(12, 418, "(d) Personality")
cap(255, 418, "and", ha="center")
cap(351, 418, "be-", ha="right")
cap(60, 453, "haviour")
cap(363, 418, "(e) Dementia-related")
cap(407, 453, "disorders")
cap(715, 418, "(f) Disorders with onset on")
cap(755, 453, "childhood")

cap(181.5, 803, "(g) Behavioural syndromes", ha="center")
cap(532, 803, "(h) Psychological develop.", ha="center")
cap(882.5, 803, "(i) Schizophrenia related", ha="center")

cap(177, 1151, "(j) Non-organic psychosis", ha="center")
cap(527, 1151, "(k) Mental retardation", ha="center")
cap(878, 1151, "(l) Other mental disorders", ha="center")

fig.savefig("out.png", dpi=100, facecolor="white")
